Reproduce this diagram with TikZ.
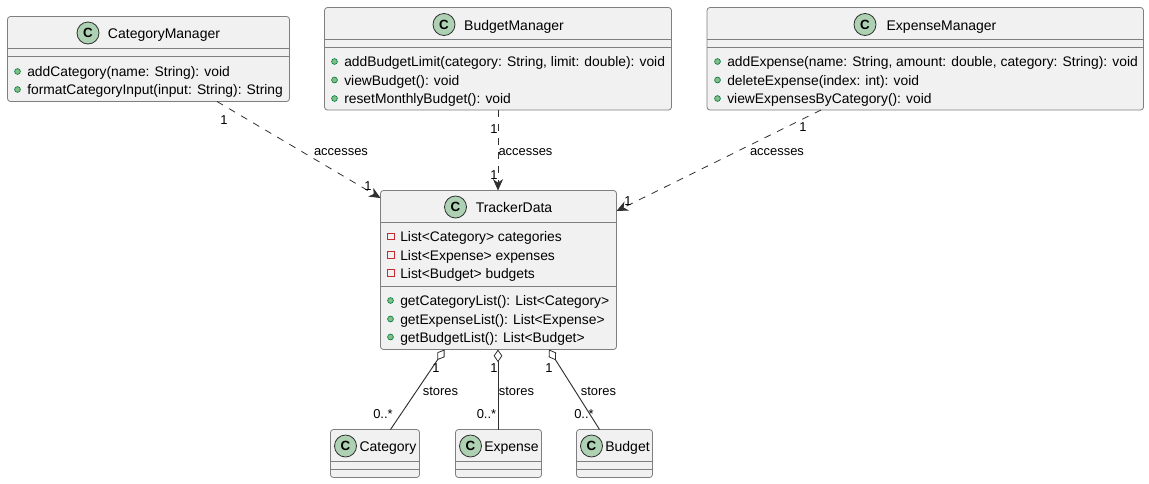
\documentclass[tikz,border=0pt]{standalone}
\usepackage{fontspec}
\setmainfont{Liberation Sans}
\usetikzlibrary{calc,arrows.meta}
\definecolor{boxfill}{HTML}{F1F1F1}
\definecolor{boxline}{HTML}{7F7F7F}
\definecolor{inkc}{HTML}{303030}
\definecolor{spotc}{HTML}{ADD1B2}
\definecolor{pubfill}{HTML}{84BE84}
\definecolor{publine}{HTML}{038048}
\definecolor{privline}{HTML}{C82930}
\tikzset{
  x=0.75pt,y=-0.75pt,
  classbox/.style={draw=boxline,fill=boxfill,line width=0.6pt,rounded corners=2.2pt,inner sep=0pt,outer sep=0pt},
  sepline/.style={draw=boxline,line width=0.6pt},
  spot/.style={circle,draw=inkc,fill=spotc,line width=0.6pt,minimum size=16.5pt,inner sep=0pt,font=\bfseries\fontsize{10}{12}\selectfont},
  titletext/.style={anchor=base,inner sep=0pt,font=\fontsize{10.5}{12}\selectfont,text=black},
  membertext/.style={anchor=base west,inner sep=0pt,font=\fontsize{10.38}{12}\selectfont,text=black},
  lab/.style={inner sep=0pt,font=\fontsize{9.7}{11}\selectfont,text=black},
  dep/.style={draw=inkc,line width=0.6pt,dash pattern=on 5.25pt off 5.25pt,-{Stealth[length=8.5pt,width=7.5pt,inset=2.6pt,color=inkc]}},
  agg/.style={draw=inkc,line width=0.7pt,{Diamond[open,length=9.5pt,width=6.5pt,line width=0.6pt,fill=white]}-},
}
\newcommand{\umlbox}[5]{%
  \pgfmathsetmacro{\bw}{(#4-#2)*0.75}\pgfmathsetmacro{\bh}{(#5-#3)*0.75}%
  \pgfmathsetmacro{\cx}{(#2+#4)/2}\pgfmathsetmacro{\cy}{(#3+#5)/2}%
  \node[classbox,minimum width=\bw pt,minimum height=\bh pt] (#1) at (\cx,\cy) {};}
\newcommand{\umlsep}[2]{\draw[sepline] ($(#1.north west)+(0,#2)$) -- ($(#1.north east)+(0,#2)$);}
\newcommand{\pubm}[3]{%
  \draw[draw=publine,fill=pubfill,line width=0.5pt] (#1-9.5,#2) circle[radius=2.9];
  \node[membertext] at (#1,#2+5.2) {#3};}
\newcommand{\privm}[3]{%
  \draw[draw=privline,line width=0.6pt,fill=none] (#1-12.2,#2-3.2) rectangle (#1-5.8,#2+3.2);
  \node[membertext] at (#1,#2+5.2) {#3};}
\begin{document}
\begin{tikzpicture}
\useasboundingbox (0,0) rectangle (1149,483);
% boxes
\umlbox{cm}{7.5}{16.5}{289.5}{101.5}
\umlbox{bm}{324.5}{7.5}{671.5}{110}
\umlbox{em}{707}{7.5}{1143.5}{110}
\umlbox{td}{380.5}{190.5}{616.5}{349.5}
\umlbox{ca}{330.5}{429.5}{419.5}{477.5}
\umlbox{ex}{455.5}{429.5}{541.5}{477.5}
\umlbox{bu}{576.5}{429.5}{652.5}{477.5}
\umlsep{cm}{32}\umlsep{cm}{40}
\umlsep{bm}{32}\umlsep{bm}{40}
\umlsep{em}{32}\umlsep{em}{40}
\umlsep{td}{32}\umlsep{td}{95.5}
\umlsep{ca}{32}\umlsep{ca}{40}
\umlsep{ex}{32}\umlsep{ex}{40}
\umlsep{bu}{32}\umlsep{bu}{40}
% titles
\node[spot] (cmc) at (88,33) {C};
\node[titletext] (cmt) at (164,38.5) {CategoryManager};
\node[spot] (bmc) at (444,24.5) {C};
\node[titletext] (bmt) at (514,30) {BudgetManager};
\node[spot] (emc) at (865,24.5) {C};
\node[titletext] (emt) at (941.5,30) {ExpenseManager};
\node[spot] (tdc) at (455.5,207) {C};
\node[titletext] (tdt) at (514,212.5) {TrackerData};
\node[spot] (cac) at (345.5,446) {C};
\node[titletext] (cat) at (388,451.5) {Category};
\node[spot] (exc) at (470.5,446) {C};
\node[titletext] (ext) at (511.5,451.5) {Expense};
\node[spot] (buc) at (591.5,446) {C};
\node[titletext] (but) at (627.5,451.5) {Budget};
% members
\pubm{27}{71.5}{addCategory(name: String): void}
\pubm{27}{89.5}{formatCategoryInput(input: String): String}
\pubm{344}{61.5}{addBudgetLimit(category: String, limit: double): void}
\pubm{344}{80}{viewBudget(): void}
\pubm{344}{98.5}{resetMonthlyBudget(): void}
\pubm{727}{61.5}{addExpense(name: String, amount: double, category: String): void}
\pubm{727}{80}{deleteExpense(index: int): void}
\pubm{727}{98.5}{viewExpensesByCategory(): void}
\privm{400}{236.5}{List<Category> categories}
\privm{400}{255}{List<Expense> expenses}
\privm{400}{273}{List<Budget> budgets}
\pubm{400}{300.5}{getCategoryList(): List<Category>}
\pubm{400}{319}{getExpenseList(): List<Expense>}
\pubm{400}{337}{getBudgetList(): List<Budget>}
% connectors
\draw[dep] ($(cm.south west)+(209.5,0)$) -- ($(td.north west)+(0,7.5)$);
\draw[dep] ($(bm.south west)+(173.5,0)$) -- ($(td.north west)+(117.5,0)$);
\draw[dep] ($(em.south west)+(114,0)$) -- ($(td.north east)+(0,20.5)$);
\draw[agg] ($(td.south west)+(64,0)$) -- ($(ca.north west)+(60,0)$);
\draw[agg] ($(td.south west)+(117.5,0)$) -- ($(ex.north west)+(42.5,0)$);
\draw[agg] ($(td.south west)+(168.5,0)$) -- ($(bu.north west)+(23,0)$);
% labels
\node[lab] (l1) at (341,152.5) {accesses};
\node[lab] (l2) at (525.5,152.5) {accesses};
\node[lab] (l3) at (777,152.5) {accesses};
\node[lab] (s1) at (440.5,391.5) {stores};
\node[lab] (s2) at (516.5,391.5) {stores};
\node[lab] (s3) at (598.5,391.5) {stores};
\node[lab] (a1) at (224,120) {1};
\node[lab] (a2) at (368,186.5) {1};
\node[lab] (a3) at (494,129.5) {1};
\node[lab] (a4) at (494,175.5) {1};
\node[lab] (a5) at (803,127.5) {1};
\node[lab] (a6) at (628,201.5) {1};
\node[lab] (b1) at (436,368.5) {1};
\node[lab] (b2) at (494,368.5) {1};
\node[lab] (b3) at (549,368.5) {1};
\node[lab] (c1) at (383,414.5) {0..*};
\node[lab] (c2) at (486.5,414.5) {0..*};
\node[lab] (c3) at (584,414.5) {0..*};
\end{tikzpicture}
\end{document}
